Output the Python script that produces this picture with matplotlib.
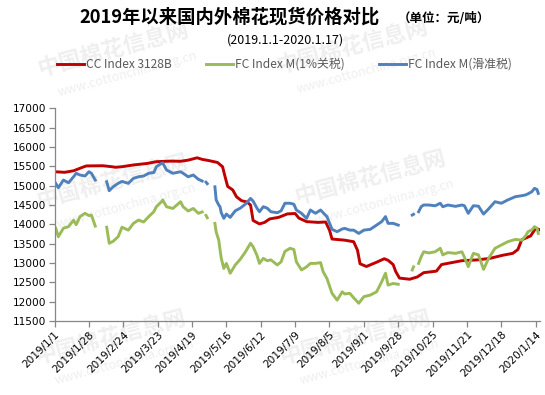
import numpy as np
import pandas as pd
import matplotlib
matplotlib.use("Agg")
import matplotlib.pyplot as plt


START = pd.Timestamp("2019-01-01")
END = pd.Timestamp("2020-01-17")

# CC Index 3128B (day offset from 2019-01-01, yuan/ton)
CC_DAYS = [0, 8, 15, 22, 25, 38, 45, 48, 53, 62, 73, 80, 91, 99, 105, 112, 116,
           121, 128, 132, 134, 136, 140, 143, 147, 151, 154, 156, 161, 165, 169,
           176, 183, 189, 192, 198, 207, 213, 216, 218, 228, 235, 238, 240, 245,
           253, 259, 262, 266, 268, 271, 279, 285, 290, 300, 304, 312, 320, 332,
           342, 352, 360, 364, 367, 374, 378, 381]
CC_3128B = [15360, 15345, 15385, 15475, 15510, 15515, 15490, 15475, 15490, 15535,
            15575, 15620, 15635, 15630, 15660, 15720, 15680, 15650, 15600, 15490,
            15230, 14980, 14890, 14710, 14610, 14580, 14500, 14100, 14010, 14050,
            14140, 14180, 14270, 14280, 14160, 14070, 14050, 14060, 13850, 13620,
            13590, 13550, 13330, 12980, 12910, 13020, 13110, 13070, 12960, 12780,
            12610, 12580, 12640, 12750, 12790, 12960, 13010, 13060, 13080, 13120,
            13200, 13250, 13350, 13600, 13700, 13900, 13860]

# FC Index M, both tariff variants (None = no quote)
FC_DAYS = [1, 3, 7, 11, 15, 17, 20, 24, 27, 29, 32, 36,
           41, 43, 46, 50, 53, 58, 62, 66, 70, 74, 78, 80, 84, 85, 88, 93, 99,
           101, 105, 109, 113, 116, 117, 119, 120, 123,
           126, 127, 129, 130, 131, 133, 135, 138, 142, 146, 150, 154, 156, 159,
           161, 164, 167, 170, 175, 178, 181, 185, 188, 190, 194, 198, 201, 205,
           209, 211, 214, 218, 222, 226, 228, 232, 235, 239, 243, 248, 253, 257,
           260, 262, 266, 270, 275,
           281, 282, 284,
           286, 288, 290, 294, 299, 303, 305, 309, 315, 320, 322, 325, 329, 333,
           337, 341, 346, 351, 356, 362, 367, 370, 372, 375, 377, 379, 380]
FC_M_1PCT = [13900, 13680, 13900, 13940, 14110, 13990, 14200, 14285, 14225, 14240, 13955, None,
             13925, 13510, 13560, 13680, 13925, 13850, 14025, 14110, 14060, 14200,
             14325, 14455, 14585, 14630, 14455, 14410, 14585, 14455, 14345, 14410,
             14285, 14320, None, 14230, 14170, None,
             14025, 13800, 13595, 13350, 13120, 12860, 12990, 12735, 12950, 13100,
             13290, 13510, 13420, 13200, 12990, 13120, 13060, 13080, 12950, 13030,
             13300, 13380, 13350, 13030, 12820, 12900, 12990, 12990, 13010, 12775,
             12600, 12215, 12040, 12255, 12200, 12215, 12100, 11960, 12130, 12170,
             12255, 12515, 12735, 12430, 12470, 12450, None,
             12820, 12900, None,
             12990, 13160, 13290, 13260, 13290, 13380, 13210, 13270, 13250, 13290,
             13150, 12905, 13250, 13210, 12835, 13120, 13380, 13465, 13550, 13610,
             13590, 13700, 13810, 13860, 13940, 13900, 13765]
FC_M_SLIDING = [15060, 14945, 15145, 15075, 15230, 15320, 15275, 15250, 15360, 15320, 15145, None,
                15100, 14870, 14970, 15060, 15110, 15060, 15190, 15230, 15250, 15320,
                15340, 15490, 15575, 15590, 15405, 15320, 15360, 15320, 15230, 15275,
                15165, 15120, None, 15090, 15050, None,
                14970, 14630, 14500, 14455, 14300, 14155, 14265, 14180, 14350, 14420,
                14525, 14670, 14600, 14420, 14325, 14455, 14420, 14325, 14300, 14350,
                14545, 14545, 14520, 14370, 14285, 14155, 14370, 14285, 14370, 14300,
                14200, 13870, 13810, 13880, 13895, 13850, 13850, 13765, 13850, 13870,
                13980, 14070, 14200, 14025, 14025, 13980, None,
                14240, 14260, None,
                14325, 14455, 14500, 14500, 14480, 14545, 14455, 14500, 14465, 14500,
                14480, 14285, 14480, 14470, 14265, 14400, 14585, 14545, 14630, 14715,
                14740, 14760, 14790, 14845, 14930, 14900, 14800]

X_TICK_LABELS = ["2019/1/1", "2019/1/28", "2019/2/24", "2019/3/23", "2019/4/19",
                 "2019/5/16", "2019/6/12", "2019/7/9", "2019/8/5", "2019/9/1",
                 "2019/9/28", "2019/10/25", "2019/11/21", "2019/12/18", "2020/1/14"]
Y_TICKS = list(range(11500, 17001, 500))

WATERMARKS = [(113, 50), (352, 47), (112, 182), (370, 178), (110, 338), (355, 338)]


def to_dates(days):
    return START + pd.to_timedelta(days, unit="D")


def main():
    plt.rcParams["font.family"] = ["DejaVu Sans", "Noto Sans CJK SC"]
    cjk = ["Noto Sans CJK SC", "DejaVu Sans"]

    fig = plt.figure(figsize=(5.45, 3.95), dpi=100)
    ax = fig.add_axes([0.1, 0.1873, 0.89, 0.5385])
    ax.set_zorder(2)
    ax.patch.set_alpha(0)

    # faint site watermarks, drawn under everything
    for wx, wy in WATERMARKS:
        fig.text(wx / 545, 1 - wy / 395, "中国棉花信息网", family=cjk, fontsize=16,
                 fontweight="bold", color="#efefef", rotation=15,
                 ha="center", va="center", zorder=0)
        fig.text((wx + 15) / 545, 1 - (wy + 24) / 395, "www.cottonchina.org.cn",
                 family=cjk, fontsize=9, color="#efefef", rotation=15,
                 ha="center", va="center", zorder=0)

    cc = np.array(CC_3128B, dtype=float)
    fc1 = np.array([np.nan if v is None else v for v in FC_M_1PCT], dtype=float)
    fcs = np.array([np.nan if v is None else v for v in FC_M_SLIDING], dtype=float)

    ax.plot(to_dates(CC_DAYS), cc, color="#C00000", linewidth=2.1,
            label="CC Index 3128B")
    ax.plot(to_dates(FC_DAYS), fc1, color="#9BBB59", linewidth=2.1,
            label="FC Index M(1%关税)")
    ax.plot(to_dates(FC_DAYS), fcs, color="#4F81BD", linewidth=2.1,
            label="FC Index M(滑准税)")

    ax.set_xlim(START, END)
    ax.set_ylim(11500, 17000)
    ax.set_yticks(Y_TICKS)
    ax.set_yticklabels([str(v) for v in Y_TICKS], fontsize=7.6)

    tick_dates = [START + pd.Timedelta(days=27 * i) for i in range(len(X_TICK_LABELS))]
    ax.set_xticks(tick_dates)
    ax.set_xticklabels(X_TICK_LABELS, rotation=45, ha="right", va="top",
                       rotation_mode="anchor", fontsize=7.6)

    for side in ("top", "right"):
        ax.spines[side].set_visible(False)
    for side in ("left", "bottom"):
        ax.spines[side].set_color("#868686")
        ax.spines[side].set_linewidth(0.9)
    ax.tick_params(axis="both", direction="out", length=4, width=0.9,
                   color="#868686", labelcolor="black", pad=2)

    fig.text(0.422, 1 - 17 / 395, "2019年以来国内外棉花现货价格对比", family=cjk,
             fontsize=13.2, fontweight="bold", ha="center", va="center", zorder=3)
    fig.text(0.814, 1 - 18 / 395, "（单位：元/吨）", family=cjk, fontsize=9,
             fontweight="bold", ha="center", va="center", zorder=3)
    fig.text(0.523, 1 - 40 / 395, "(2019.1.1-2020.1.17)", family=cjk,
             fontsize=9, ha="center", va="center", zorder=3)

    leg = ax.legend(loc="center left", bbox_to_anchor=(57 / 545, 1 - 64.5 / 395),
                    bbox_transform=fig.transFigure, ncol=3, frameon=False,
                    prop={"family": cjk, "size": 8.6}, handlelength=2.25,
                    handletextpad=0.15, columnspacing=2.9, borderaxespad=0,
                    borderpad=0)
    for text in leg.get_texts():
        text.set_color("#595959")

    fig.savefig("out.png", dpi=100)
    plt.close(fig)


if __name__ == "__main__":
    main()
